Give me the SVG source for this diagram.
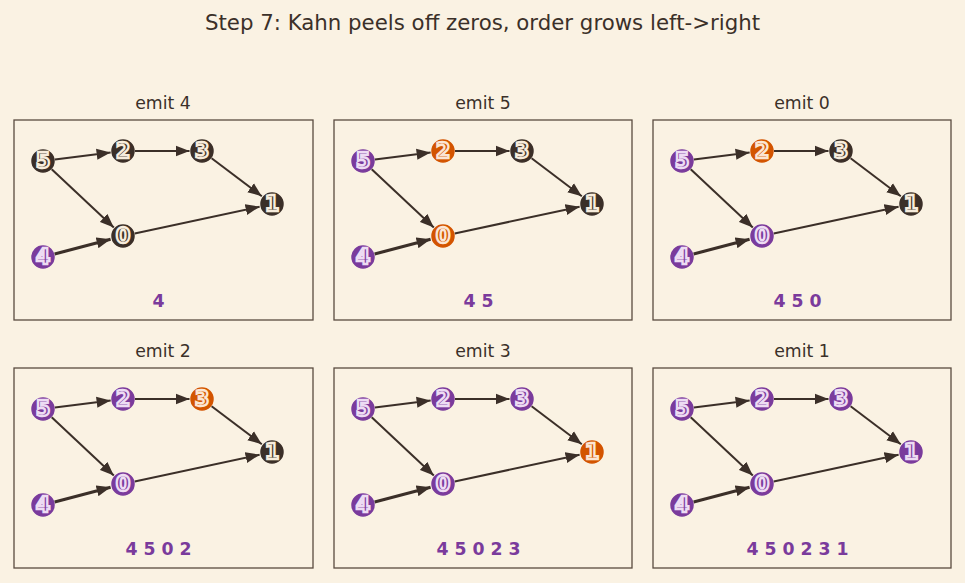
<svg xmlns="http://www.w3.org/2000/svg" width="965" height="583" viewBox="0 0 965 583">
<style>
.bg{fill:#faf2e3}
.title{font-family:"DejaVu Sans",sans-serif;font-size:21.3px;fill:#3b3029;text-anchor:middle}
.ptitle{font-family:"DejaVu Sans",sans-serif;font-size:17.3px;fill:#3b3029;text-anchor:middle}
.order{font-family:"DejaVu Sans",sans-serif;font-size:17.3px;font-weight:bold;fill:#7a3b9c;text-anchor:middle}
.frame{fill:none;stroke:#5a4b40;stroke-width:1.3}
.e{stroke:#3b2f28;stroke-width:2;fill:none;marker-end:url(#ah)}
.e2{stroke:#3b2f28;stroke-width:3;fill:none;marker-end:url(#ah)}
.n circle{stroke-width:1.5}
.n text{font-family:"DejaVu Sans",sans-serif;font-size:21px;font-weight:bold;text-anchor:middle;dominant-baseline:central;stroke-width:2.3;paint-order:normal}
.d circle{fill:#3b2f28;stroke:#3b2f28}
.d text{fill:#3b2f28;stroke:#f7ecdc}
.p circle{fill:#7a3b9c;stroke:#7a3b9c}
.p text{fill:#7a3b9c;stroke:#eddcf3}
.o circle{fill:#d35400;stroke:#d35400}
.o text{fill:#d35400;stroke:#fbe5d3}
</style>
<defs>
<marker id="ah" markerUnits="userSpaceOnUse" markerWidth="15" markerHeight="12" refX="14" refY="6" orient="auto">
<path d="M0,0.5 L14,6 L0,11.5 z" fill="#3b2f28"/>
</marker>
</defs>
<rect class="bg" x="0" y="0" width="965" height="583"/>
<text class="title" x="482.5" y="30">Step 7: Kahn peels off zeros, order grows left-&gt;right</text>

<!-- Panel 1 -->
<g id="panel1">
<rect class="frame" x="14" y="120" width="299" height="200"/>
<text class="ptitle" x="163" y="109">emit 4</text>
<g class="connectors" id="p1-edges">
<line class="e" x1="54.9" y1="159.5" x2="110.6" y2="152.5"/>
<line class="e" x1="135" y1="151" x2="189.5" y2="151"/>
<line class="e" x1="211.6" y1="158.2" x2="261.8" y2="196.2"/>
<line class="e" x1="51.7" y1="169.2" x2="113.8" y2="227.4"/>
<line class="e2" x1="54.6" y1="254" x2="110.6" y2="239.3"/>
<line class="e" x1="134.7" y1="233.5" x2="259.6" y2="206.7"/>
</g>
<g id="p1-n5" class="n d"><circle cx="43" cy="161" r="11"/><text x="43" y="161">5</text></g>
<g id="p1-n2" class="n d"><circle cx="123" cy="151" r="11"/><text x="123" y="151">2</text></g>
<g id="p1-n3" class="n d"><circle cx="202" cy="151" r="11"/><text x="202" y="151">3</text></g>
<g id="p1-n1" class="n d"><circle cx="272" cy="204" r="11"/><text x="272" y="204">1</text></g>
<g id="p1-n0" class="n d"><circle cx="123" cy="236" r="11"/><text x="123" y="236">0</text></g>
<g id="p1-n4" class="n p"><circle cx="43" cy="257" r="11"/><text x="43" y="257">4</text></g>
<text class="order" x="158.5" y="307">4</text>
</g>

<!-- Panel 2 -->
<g id="panel2" transform="translate(320,0)">
<rect class="frame" x="14" y="120" width="298" height="200"/>
<text class="ptitle" x="163" y="109">emit 5</text>
<g class="connectors" id="p2-edges">
<line class="e" x1="54.9" y1="159.5" x2="110.6" y2="152.5"/>
<line class="e" x1="135" y1="151" x2="189.5" y2="151"/>
<line class="e" x1="211.6" y1="158.2" x2="261.8" y2="196.2"/>
<line class="e" x1="51.7" y1="169.2" x2="113.8" y2="227.4"/>
<line class="e2" x1="54.6" y1="254" x2="110.6" y2="239.3"/>
<line class="e" x1="134.7" y1="233.5" x2="259.6" y2="206.7"/>
</g>
<g id="p2-n5" class="n p"><circle cx="43" cy="161" r="11"/><text x="43" y="161">5</text></g>
<g id="p2-n2" class="n o"><circle cx="123" cy="151" r="11"/><text x="123" y="151">2</text></g>
<g id="p2-n3" class="n d"><circle cx="202" cy="151" r="11"/><text x="202" y="151">3</text></g>
<g id="p2-n1" class="n d"><circle cx="272" cy="204" r="11"/><text x="272" y="204">1</text></g>
<g id="p2-n0" class="n o"><circle cx="123" cy="236" r="11"/><text x="123" y="236">0</text></g>
<g id="p2-n4" class="n p"><circle cx="43" cy="257" r="11"/><text x="43" y="257">4</text></g>
<text class="order" x="158.5" y="307">4 5</text>
</g>

<!-- Panel 3 -->
<g id="panel3" transform="translate(639,0)">
<rect class="frame" x="14" y="120" width="298" height="200"/>
<text class="ptitle" x="163" y="109">emit 0</text>
<g class="connectors" id="p3-edges">
<line class="e" x1="54.9" y1="159.5" x2="110.6" y2="152.5"/>
<line class="e" x1="135" y1="151" x2="189.5" y2="151"/>
<line class="e" x1="211.6" y1="158.2" x2="261.8" y2="196.2"/>
<line class="e" x1="51.7" y1="169.2" x2="113.8" y2="227.4"/>
<line class="e2" x1="54.6" y1="254" x2="110.6" y2="239.3"/>
<line class="e" x1="134.7" y1="233.5" x2="259.6" y2="206.7"/>
</g>
<g id="p3-n5" class="n p"><circle cx="43" cy="161" r="11"/><text x="43" y="161">5</text></g>
<g id="p3-n2" class="n o"><circle cx="123" cy="151" r="11"/><text x="123" y="151">2</text></g>
<g id="p3-n3" class="n d"><circle cx="202" cy="151" r="11"/><text x="202" y="151">3</text></g>
<g id="p3-n1" class="n d"><circle cx="272" cy="204" r="11"/><text x="272" y="204">1</text></g>
<g id="p3-n0" class="n p"><circle cx="123" cy="236" r="11"/><text x="123" y="236">0</text></g>
<g id="p3-n4" class="n p"><circle cx="43" cy="257" r="11"/><text x="43" y="257">4</text></g>
<text class="order" x="158.5" y="307">4 5 0</text>
</g>

<!-- Panel 4 -->
<g id="panel4" transform="translate(0,248)">
<rect class="frame" x="14" y="120" width="299" height="200"/>
<text class="ptitle" x="163" y="109">emit 2</text>
<g class="connectors" id="p4-edges">
<line class="e" x1="54.9" y1="159.5" x2="110.6" y2="152.5"/>
<line class="e" x1="135" y1="151" x2="189.5" y2="151"/>
<line class="e" x1="211.6" y1="158.2" x2="261.8" y2="196.2"/>
<line class="e" x1="51.7" y1="169.2" x2="113.8" y2="227.4"/>
<line class="e2" x1="54.6" y1="254" x2="110.6" y2="239.3"/>
<line class="e" x1="134.7" y1="233.5" x2="259.6" y2="206.7"/>
</g>
<g id="p4-n5" class="n p"><circle cx="43" cy="161" r="11"/><text x="43" y="161">5</text></g>
<g id="p4-n2" class="n p"><circle cx="123" cy="151" r="11"/><text x="123" y="151">2</text></g>
<g id="p4-n3" class="n o"><circle cx="202" cy="151" r="11"/><text x="202" y="151">3</text></g>
<g id="p4-n1" class="n d"><circle cx="272" cy="204" r="11"/><text x="272" y="204">1</text></g>
<g id="p4-n0" class="n p"><circle cx="123" cy="236" r="11"/><text x="123" y="236">0</text></g>
<g id="p4-n4" class="n p"><circle cx="43" cy="257" r="11"/><text x="43" y="257">4</text></g>
<text class="order" x="158.5" y="307">4 5 0 2</text>
</g>

<!-- Panel 5 -->
<g id="panel5" transform="translate(320,248)">
<rect class="frame" x="14" y="120" width="298" height="200"/>
<text class="ptitle" x="163" y="109">emit 3</text>
<g class="connectors" id="p5-edges">
<line class="e" x1="54.9" y1="159.5" x2="110.6" y2="152.5"/>
<line class="e" x1="135" y1="151" x2="189.5" y2="151"/>
<line class="e" x1="211.6" y1="158.2" x2="261.8" y2="196.2"/>
<line class="e" x1="51.7" y1="169.2" x2="113.8" y2="227.4"/>
<line class="e2" x1="54.6" y1="254" x2="110.6" y2="239.3"/>
<line class="e" x1="134.7" y1="233.5" x2="259.6" y2="206.7"/>
</g>
<g id="p5-n5" class="n p"><circle cx="43" cy="161" r="11"/><text x="43" y="161">5</text></g>
<g id="p5-n2" class="n p"><circle cx="123" cy="151" r="11"/><text x="123" y="151">2</text></g>
<g id="p5-n3" class="n p"><circle cx="202" cy="151" r="11"/><text x="202" y="151">3</text></g>
<g id="p5-n1" class="n o"><circle cx="272" cy="204" r="11"/><text x="272" y="204">1</text></g>
<g id="p5-n0" class="n p"><circle cx="123" cy="236" r="11"/><text x="123" y="236">0</text></g>
<g id="p5-n4" class="n p"><circle cx="43" cy="257" r="11"/><text x="43" y="257">4</text></g>
<text class="order" x="158.5" y="307">4 5 0 2 3</text>
</g>

<!-- Panel 6 -->
<g id="panel6" transform="translate(639,248)">
<rect class="frame" x="14" y="120" width="298" height="200"/>
<text class="ptitle" x="163" y="109">emit 1</text>
<g class="connectors" id="p6-edges">
<line class="e" x1="54.9" y1="159.5" x2="110.6" y2="152.5"/>
<line class="e" x1="135" y1="151" x2="189.5" y2="151"/>
<line class="e" x1="211.6" y1="158.2" x2="261.8" y2="196.2"/>
<line class="e" x1="51.7" y1="169.2" x2="113.8" y2="227.4"/>
<line class="e2" x1="54.6" y1="254" x2="110.6" y2="239.3"/>
<line class="e" x1="134.7" y1="233.5" x2="259.6" y2="206.7"/>
</g>
<g id="p6-n5" class="n p"><circle cx="43" cy="161" r="11"/><text x="43" y="161">5</text></g>
<g id="p6-n2" class="n p"><circle cx="123" cy="151" r="11"/><text x="123" y="151">2</text></g>
<g id="p6-n3" class="n p"><circle cx="202" cy="151" r="11"/><text x="202" y="151">3</text></g>
<g id="p6-n1" class="n p"><circle cx="272" cy="204" r="11"/><text x="272" y="204">1</text></g>
<g id="p6-n0" class="n p"><circle cx="123" cy="236" r="11"/><text x="123" y="236">0</text></g>
<g id="p6-n4" class="n p"><circle cx="43" cy="257" r="11"/><text x="43" y="257">4</text></g>
<text class="order" x="158.5" y="307">4 5 0 2 3 1</text>
</g>
</svg>
